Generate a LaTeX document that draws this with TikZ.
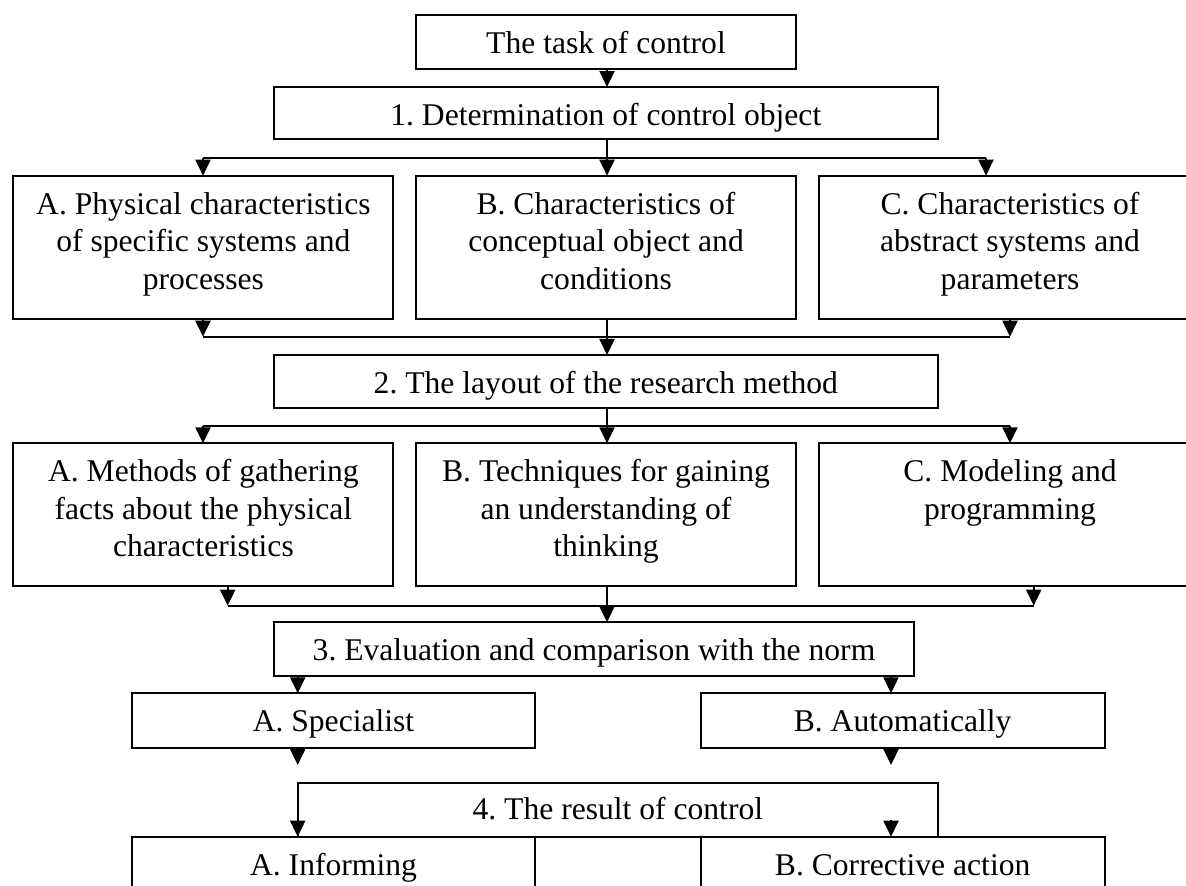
\documentclass[tikz,border=0pt]{standalone}
\usepackage{fontspec}
\setmainfont{Liberation Serif}
\usetikzlibrary{arrows.meta,calc}
\frenchspacing
\tikzset{
  box/.style={draw, line width=1pt, inner sep=0pt, outer sep=0pt, rectangle},
  txt/.style={font=\fontsize{15.8}{18.8}\selectfont, align=center, inner sep=0pt, anchor=north},
  arr/.style={line width=1pt, -{Triangle[length=8pt,width=7.5pt]}},
  ln/.style={line width=1pt},
}
\newcommand{\boxtext}[3]{\node[txt] (#1) at ([yshift=-5.84pt]#2.north) {\strut #3};}
\begin{document}
\begin{tikzpicture}[x=0.5pt,y=-0.5pt]
\useasboundingbox (0,0) rectangle (1186,886);
\clip (0,0) rectangle (1186,886);
% boxes
\node[box, minimum width=189.7pt, minimum height=27pt] (task) at (606,42) {};
\node[box, minimum width=332.2pt, minimum height=26.15pt] (d1) at (605.8,113.2) {};
\node[box, minimum width=190pt, minimum height=71.65pt] (A) at (203.4,247.35) {};
\node[box, minimum width=189.7pt, minimum height=71.65pt] (B) at (606,247.35) {};
\node[box, minimum width=190.6pt, minimum height=71.65pt] (C) at (1010,247.35) {};
\node[box, minimum width=332.2pt, minimum height=26.65pt] (d2) at (605.8,381.65) {};
\node[box, minimum width=190pt, minimum height=71.35pt] (A2) at (203.4,514.65) {};
\node[box, minimum width=189.7pt, minimum height=71.35pt] (B2) at (606,514.65) {};
\node[box, minimum width=190.6pt, minimum height=71.35pt] (C2) at (1010,514.65) {};
\node[box, minimum width=320.35pt, minimum height=26.85pt] (d3) at (594,649.15) {};
\node[box, minimum width=201.5pt, minimum height=27.5pt] (SpA) at (333.5,720.8) {};
\node[box, minimum width=201.85pt, minimum height=27.5pt] (SpB) at (902.65,720.8) {};
\node[box, minimum width=320.15pt, minimum height=26.7pt] (d4) at (617.85,810) {};
\node[box, minimum width=201.5pt, minimum height=41.65pt] (ResA) at (333.5,878.35) {};
\node[box, minimum width=201.85pt, minimum height=41.65pt] (ResB) at (902.65,878.35) {};
% texts
\boxtext{tTask}{task}{The task of control}
\boxtext{tD1}{d1}{1. Determination of control object}
\boxtext{tA}{A}{A. Physical characteristics\\of specific systems and\\processes}
\boxtext{tB}{B}{B. Characteristics of\\conceptual object and\\conditions}
\boxtext{tC}{C}{C. Characteristics of\\abstract systems and\\parameters}
\boxtext{tD2}{d2}{2. The layout of the research method}
\boxtext{tA2}{A2}{A. Methods of gathering\\facts about the physical\\characteristics}
\boxtext{tB2}{B2}{B. Techniques for gaining\\an understanding of\\thinking}
\boxtext{tC2}{C2}{C. Modeling and\\programming}
\boxtext{tD3}{d3}{3. Evaluation and comparison with the norm}
\boxtext{tSpA}{SpA}{A. Specialist}
\boxtext{tSpB}{SpB}{B. Automatically}
\node[txt] (tD4) at ([yshift=-4.84pt]d4.north) {\strut 4. The result of control};
\boxtext{tResA}{ResA}{A. Informing}
\boxtext{tResB}{ResB}{B. Corrective action}
% reference coordinates
\coordinate (xm) at (607,0);
\coordinate (xl) at (203,0);
\coordinate (xr1) at (986,0);
\coordinate (xr) at (1010,0);
\coordinate (xl3) at (227.7,0);
\coordinate (xr3) at (1033.7,0);
\coordinate (xs) at (297.7,0);
\coordinate (xa) at (891,0);
\coordinate (bus1) at (0,157.7);
\coordinate (bus2) at (0,336.7);
\coordinate (bus3) at (0,425.7);
\coordinate (bus4) at (0,605.7);
\coordinate (endA) at (297.7,765);
\coordinate (endB) at (891,765);
\coordinate (startC) at (891,820);
% connectors
\draw[arr] (task.south -| xm) -- (d1.north -| xm);
\draw[ln] (bus1 -| xl) -- (bus1 -| xr1);
\draw[arr] (d1.south -| xm) -- (B.north -| xm);
\draw[arr] (bus1 -| xl) -- (A.north -| xl);
\draw[arr] (bus1 -| xr1) -- (C.north -| xr1);
\draw[ln] (bus2 -| xl) -- (bus2 -| xr);
\draw[arr] (A.south -| xl) -- (bus2 -| xl);
\draw[arr] (C.south -| xr) -- (bus2 -| xr);
\draw[arr] (B.south -| xm) -- (d2.north -| xm);
\draw[ln] (bus3 -| xl) -- (bus3 -| xr);
\draw[arr] (d2.south -| xm) -- (B2.north -| xm);
\draw[arr] (bus3 -| xl) -- (A2.north -| xl);
\draw[arr] (bus3 -| xr) -- (C2.north -| xr);
\draw[ln] (bus4 -| xl3) -- (bus4 -| xr3);
\draw[arr] (A2.south -| xl3) -- (bus4 -| xl3);
\draw[arr] (C2.south -| xr3) -- (bus4 -| xr3);
\draw[arr] (B2.south -| xm) -- (d3.north -| xm);
\draw[arr] (d3.south -| xs) -- (SpA.north -| xs);
\draw[arr] (d3.south -| xa) -- (SpB.north -| xa);
\draw[arr] (SpA.south -| xs) -- (endA);
\draw[arr] (SpB.south -| xa) -- (endB);
\draw[arr] (d4.north west) -- (d4.south west);
\draw[arr] (startC) -- (d4.south -| xa);
\end{tikzpicture}
\end{document}
